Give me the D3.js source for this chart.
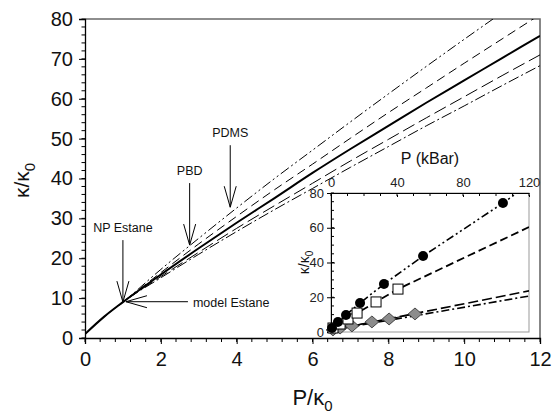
<!DOCTYPE html>
<html>
<head>
<meta charset="utf-8">
<script src="https://cdn.jsdelivr.net/npm/d3@7"></script>
<style>
  body { margin: 0; background: #fff; }
  svg { display: block; font-family: "Liberation Sans", Arial, sans-serif; }
</style>
</head>
<body>
<div id="chart"></div>
<script>
// main panel: kappa/kappa0 vs P/kappa0
const xMain = [0, 0.5, 1, 2, 3, 4, 5, 6, 7, 8, 9, 10, 11, 12];
const upperDashDot = [1, 5.3, 9, 17.2, 25.0, 32.6, 40.0, 47.1, 54.2, 61.2, 68.1, 74.9, 81.6, 88.3];
const upperDashed = [1, 5.3, 9, 16.4, 23.6, 30.5, 37.2, 43.6, 50.1, 56.5, 62.7, 68.9, 75.0, 81.1];
const solidCurve = [1, 5.3, 9, 15.9, 22.5, 28.9, 35.1, 41.4, 47.4, 53.2, 59.0, 64.6, 70.2, 75.8];
const lowerDashed = [1, 5.3, 9, 15.4, 21.5, 27.5, 33.2, 38.8, 44.4, 49.8, 55.2, 60.5, 65.8, 71.0];
const lowerDashDot = [1, 5.3, 9, 15.1, 21.0, 26.7, 32.2, 37.5, 42.8, 48.0, 53.2, 58.2, 63.3, 68.3];

const annotations = [
  { text: "NP Estane", px: 1.0, py: 9.0, dir: "down" },
  { text: "model Estane", px: 1.08, py: 9.1, dir: "left" },
  { text: "PBD", px: 2.76, py: 23.3, dir: "down" },
  { text: "PDMS", px: 3.83, py: 32.8, dir: "down" }
];

// inset: kappa/kappa0 vs P (kBar)
const circleP = [0.6, 4.2, 9.1, 17.6, 32.1, 55.8, 104.2];
const circleK = [2.3, 5.8, 9.8, 16.7, 27.6, 43.7, 74.2];
const circleFitP = [0, 0.6, 4.2, 9.1, 17.6, 32.1, 55.8, 104.2, 112.7];
const circleFitK = [1, 2.3, 5.8, 9.8, 16.7, 27.6, 43.7, 74.2, 80];

const squareP = [1.2, 5.5, 10.3, 15.8, 27.3, 40.6];
const squareK = [2.3, 4.6, 7.5, 10.9, 17.3, 24.7];
const squareFitP = [0, 1.2, 5.5, 10.3, 15.8, 27.3, 40.6, 120];
const squareFitK = [1, 2.3, 4.6, 7.5, 10.9, 17.3, 24.7, 60.4];

const diamondP = [1.2, 5.5, 12.7, 24.8, 35.2, 50.9];
const diamondK = [1.2, 2.3, 3.5, 5.8, 7.5, 10.4];
const diamondDashP = [0, 120];
const diamondDashK = [1, 23.7];
const diamondDashDotP = [0, 120];
const diamondDashDotK = [1, 20.7];

const width = 552, height = 416;
const svg = d3.select("#chart").append("svg")
  .attr("width", width).attr("height", height);

const x = d3.scaleLinear().domain([0, 12]).range([85, 540]);
const y = d3.scaleLinear().domain([0, 80]).range([338, 19]);

svg.append("defs").append("clipPath").attr("id", "mainClip")
  .append("rect")
  .attr("x", x(0)).attr("y", y(80))
  .attr("width", x(12) - x(0)).attr("height", y(0) - y(80));

// frame (top / right)
svg.append("path")
  .attr("d", `M${x(0)},${y(80)}H${x(12)}V${y(0)}`)
  .attr("fill", "none").attr("stroke", "#6a6a6a").attr("stroke-width", 1.6);

// axes
const xAxis = d3.axisBottom(x).tickValues(d3.range(0, 13, 2)).tickSize(6).tickPadding(8);
const gx = svg.append("g").attr("transform", `translate(0,${y(0)})`).call(xAxis);
gx.selectAll("text").attr("font-size", 20).attr("fill", "#111");
gx.append("g").selectAll("line")
  .data(d3.range(0, 12.01, 0.4))
  .join("line")
  .attr("x1", d => x(d)).attr("x2", d => x(d))
  .attr("y1", 0).attr("y2", 4)
  .attr("stroke", "#000");

const yAxis = d3.axisLeft(y).tickValues(d3.range(0, 81, 10)).tickSize(6).tickPadding(6);
const gy = svg.append("g").attr("transform", `translate(${x(0)},0)`).call(yAxis);
gy.selectAll("text").attr("font-size", 20).attr("fill", "#111");
gy.append("g").selectAll("line")
  .data(d3.range(0, 80.01, 2))
  .join("line")
  .attr("y1", d => y(d)).attr("y2", d => y(d))
  .attr("x1", 0).attr("x2", -3.5)
  .attr("stroke", "#000");
svg.selectAll(".domain").attr("stroke", "#000").attr("stroke-width", 1.3);

// axis titles
const xt = svg.append("text")
  .attr("x", (x(0) + x(12)) / 2).attr("y", 405)
  .attr("text-anchor", "middle").attr("font-size", 22).attr("fill", "#111");
xt.append("tspan").text("P/κ");
xt.append("tspan").attr("font-size", 15).attr("dy", 6).text("0");

const yt = svg.append("text")
  .attr("transform", `translate(29,${(y(0) + y(80)) / 2 + 2}) rotate(-90)`)
  .attr("text-anchor", "middle").attr("font-size", 21).attr("fill", "#111");
yt.append("tspan").text("κ/κ");
yt.append("tspan").attr("font-size", 15).attr("dy", 6).text("0");

// curves
const mainLine = d3.line().x(d => x(d[0])).y(d => y(d[1])).curve(d3.curveMonotoneX);
const mainSeries = [
  { vals: upperDashDot, dash: "10,3,2,3,2,3", w: 1 },
  { vals: upperDashed, dash: "9,5", w: 1 },
  { vals: solidCurve, dash: null, w: 2 },
  { vals: lowerDashed, dash: "13,5", w: 1 },
  { vals: lowerDashDot, dash: "11,3,2,3", w: 1 }
];
svg.append("g").attr("clip-path", "url(#mainClip)")
  .selectAll("path")
  .data(mainSeries)
  .join("path")
  .attr("d", s => mainLine(xMain.map((v, i) => [v, s.vals[i]])))
  .attr("fill", "none")
  .attr("stroke", "#000")
  .attr("stroke-width", s => s.w)
  .attr("stroke-dasharray", s => s.dash);

// annotation arrows
const ann = svg.append("g").attr("stroke", "#000").attr("stroke-width", 1).attr("fill", "none");
annotations.forEach(a => {
  const tx = x(a.px), ty = y(a.py);
  if (a.dir === "down") {
    ann.append("path").attr("d",
      `M${tx},${ty - 62}V${ty}M${tx - 6},${ty - 21}L${tx},${ty}L${tx + 6},${ty - 21}`);
    svg.append("text").attr("x", tx).attr("y", ty - 70)
      .attr("text-anchor", "middle").attr("font-size", 12.5).attr("fill", "#111")
      .text(a.text);
  } else {
    ann.append("path").attr("d",
      `M${tx + 62},${ty}H${tx}M${tx + 21},${ty - 6}L${tx},${ty}L${tx + 21},${ty + 6}`);
    svg.append("text").attr("x", tx + 67).attr("y", ty + 5)
      .attr("text-anchor", "start").attr("font-size", 12.5).attr("fill", "#111")
      .text(a.text);
  }
});

// ---------- inset ----------
const ix = d3.scaleLinear().domain([0, 120]).range([331, 529]);
const iy = d3.scaleLinear().domain([0, 80]).range([332, 193]);

svg.append("rect")
  .attr("x", ix(0)).attr("y", iy(80))
  .attr("width", ix(120) - ix(0)).attr("height", iy(0) - iy(80))
  .attr("fill", "#fff").attr("stroke", "#999").attr("stroke-width", 1);

svg.append("defs").append("clipPath").attr("id", "insetClip")
  .append("rect")
  .attr("x", ix(0)).attr("y", iy(80))
  .attr("width", ix(120) - ix(0)).attr("height", iy(0) - iy(80) + 10);

const ixAxis = d3.axisTop(ix).tickValues([0, 40, 80, 120]).tickSizeInner(-4).tickSizeOuter(0).tickPadding(6);
const gix = svg.append("g").attr("transform", `translate(0,${iy(80)})`).call(ixAxis);
gix.selectAll("text").attr("font-size", 13).attr("fill", "#222");
gix.selectAll(".tick line").attr("y1", 2);
gix.append("g").selectAll("line")
  .data(d3.range(0, 120.1, 10))
  .join("line")
  .attr("x1", d => ix(d)).attr("x2", d => ix(d))
  .attr("y1", 0).attr("y2", 3)
  .attr("stroke", "#000");

const iyAxis = d3.axisLeft(iy).tickValues([0, 20, 40, 60, 80]).tickSizeInner(4).tickSizeOuter(0).tickPadding(3);
const giy = svg.append("g").attr("transform", `translate(${ix(0)},0)`).call(iyAxis);
giy.selectAll("text").attr("font-size", 13).attr("fill", "#222");
giy.selectAll(".tick line").attr("x2", 4).attr("x1", -4);
giy.append("g").selectAll("line")
  .data(d3.range(0, 80.1, 5))
  .join("line")
  .attr("y1", d => iy(d)).attr("y2", d => iy(d))
  .attr("x1", 0).attr("x2", 3)
  .attr("stroke", "#000");
gix.select(".domain").attr("stroke", "#000");
giy.select(".domain").attr("stroke", "#000");

const ixt = svg.append("text")
  .attr("x", (ix(0) + ix(120)) / 2).attr("y", 164)
  .attr("text-anchor", "middle").attr("font-size", 16).attr("fill", "#111")
  .text("P (kBar)");

const iyt = svg.append("text")
  .attr("transform", `translate(309,${(iy(0) + iy(80)) / 2}) rotate(-90)`)
  .attr("text-anchor", "middle").attr("font-size", 14).attr("fill", "#111");
iyt.append("tspan").text("κ/κ");
iyt.append("tspan").attr("font-size", 10).attr("dy", 4).text("0");

const insetLine = d3.line().x(d => ix(d[0])).y(d => iy(d[1]));
const zip = (a, b) => a.map((v, i) => [v, b[i]]);
const insetSeries = [
  { pts: zip(diamondDashP, diamondDashK), dash: "10,4", w: 1.6 },
  { pts: zip(diamondDashDotP, diamondDashDotK), dash: "8,3,2,3", w: 1.6 },
  { pts: zip(diamondP, diamondK), dash: null, w: 1 },
  { pts: zip(squareFitP, squareFitK), dash: "8,4", w: 1.8 },
  { pts: zip(circleFitP, circleFitK), dash: "8,3,2,3,2,3", w: 1.6 }
];
const ig = svg.append("g").attr("clip-path", "url(#insetClip)");
ig.selectAll("path.fit")
  .data(insetSeries)
  .join("path")
  .attr("class", "fit")
  .attr("d", s => insetLine(s.pts))
  .attr("fill", "none")
  .attr("stroke", "#000")
  .attr("stroke-width", s => s.w)
  .attr("stroke-dasharray", s => s.dash);

// markers
svg.append("g").selectAll("path")
  .data(zip(diamondP, diamondK))
  .join("path")
  .attr("d", d3.symbol(d3.symbolDiamond2, 90))
  .attr("transform", d => `translate(${ix(d[0])},${iy(d[1])}) scale(1.15,1)`)
  .attr("fill", "#8c8c8c").attr("stroke", "#333").attr("stroke-width", 0.8);

svg.append("g").selectAll("rect")
  .data(zip(squareP, squareK))
  .join("rect")
  .attr("x", d => ix(d[0]) - 5).attr("y", d => iy(d[1]) - 5)
  .attr("width", 10).attr("height", 10)
  .attr("fill", "#fff").attr("stroke", "#000").attr("stroke-width", 1);

svg.append("g").selectAll("circle")
  .data(zip(circleP, circleK))
  .join("circle")
  .attr("cx", d => ix(d[0])).attr("cy", d => iy(d[1]))
  .attr("r", 5)
  .attr("fill", "#000");
</script>
</body>
</html>
